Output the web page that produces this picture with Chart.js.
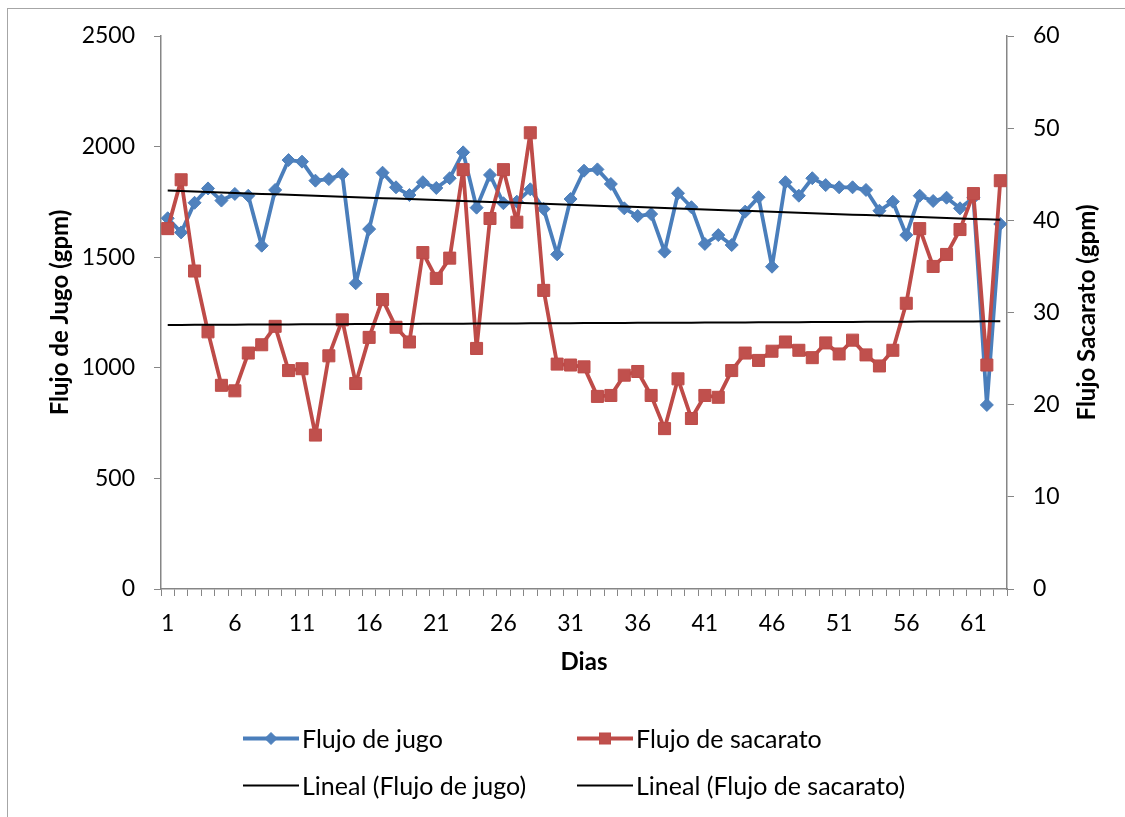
<!DOCTYPE html>
<html>
<head>
<meta charset="utf-8">
<script src="https://cdn.jsdelivr.net/npm/chart.js@4.4.1/dist/chart.umd.min.js"></script>
<style>
  html, body { margin: 0; padding: 0; background: #fff; }
  #lienzo { position: relative; width: 1125px; height: 817px; overflow: hidden; }
  #marco { position: absolute; left: 7px; top: 8px; width: 1140px; height: 830px;
           border: 1px solid #a6a6a6; box-sizing: border-box; }
  #grafico { position: absolute; left: 0; top: 0; }
  .leyenda { position: absolute; display: flex; align-items: center; white-space: nowrap;
             font-family: Lato, sans-serif; font-size: 25px; color: #000; line-height: 1;
             transform: translateY(-50%); }
  .leyenda svg { margin-right: 3px; flex: none; }
</style>
</head>
<body>
<div id="lienzo">
  <div id="marco"></div>
  <canvas id="grafico" width="1125" height="817"></canvas>

  <div class="leyenda" style="left:243px; top:738px;">
    <svg width="56" height="14" viewBox="0 0 56 14">
      <line x1="0" y1="7" x2="56" y2="7" stroke="#4A7EBB" stroke-width="4" stroke-linecap="round"/>
      <polygon points="28,1 34,7 28,13 22,7" fill="#4F81BD" stroke="#4A7EBB" stroke-width="1"/>
    </svg><span>Flujo de jugo</span>
  </div>
  <div class="leyenda" style="left:577px; top:738px;">
    <svg width="56" height="14" viewBox="0 0 56 14">
      <line x1="0" y1="7" x2="56" y2="7" stroke="#BE4B48" stroke-width="4" stroke-linecap="round"/>
      <rect x="22.5" y="1.5" width="11" height="11" fill="#C0504D" stroke="#BE4B48" stroke-width="1"/>
    </svg><span>Flujo de sacarato</span>
  </div>
  <div class="leyenda" style="left:243px; top:785px;">
    <svg width="56" height="14" viewBox="0 0 56 14">
      <line x1="0" y1="7" x2="56" y2="7" stroke="#000" stroke-width="2"/>
    </svg><span>Lineal (Flujo de jugo)</span>
  </div>
  <div class="leyenda" style="left:577px; top:785px;">
    <svg width="56" height="14" viewBox="0 0 56 14">
      <line x1="0" y1="7" x2="56" y2="7" stroke="#000" stroke-width="2"/>
    </svg><span>Lineal (Flujo de sacarato)</span>
  </div>
</div>

<script>
// Días de operación
const dias = ['1','2','3','4','5','6','7','8','9','10','11','12','13','14','15','16','17','18','19','20',
  '21','22','23','24','25','26','27','28','29','30','31','32','33','34','35','36','37','38','39','40',
  '41','42','43','44','45','46','47','48','49','50','51','52','53','54','55','56','57','58','59','60',
  '61','62','63'];

// Flujo de jugo (gpm) — eje izquierdo
const flujoJugo = [1676, 1612, 1746, 1811, 1756, 1786, 1778, 1552, 1804, 1939,
  1932, 1846, 1853, 1875, 1382, 1627, 1882, 1816, 1781, 1839,
  1813, 1857, 1974, 1724, 1872, 1744, 1751, 1807, 1718, 1513,
  1763, 1891, 1897, 1831, 1721, 1686, 1695, 1525, 1789, 1726,
  1560, 1600, 1555, 1706, 1771, 1457, 1839, 1778, 1857, 1826,
  1816, 1816, 1804, 1710, 1751, 1600, 1778, 1754, 1769, 1721,
  1769, 832, 1650];

// Flujo de sacarato (gpm) — eje derecho
const flujoSacarato = [39.1, 44.4, 34.5, 27.9, 22.1, 21.5, 25.6, 26.5, 28.5, 23.7,
  23.9, 16.7, 25.3, 29.2, 22.3, 27.3, 31.4, 28.4, 26.8, 36.5,
  33.7, 35.9, 45.5, 26.1, 40.2, 45.5, 39.8, 49.5, 32.4, 24.4,
  24.3, 24.1, 20.9, 21.0, 23.2, 23.6, 21.0, 17.4, 22.8, 18.5,
  21.0, 20.8, 23.7, 25.6, 24.8, 25.8, 26.8, 25.9, 25.1, 26.7,
  25.5, 27.0, 25.4, 24.2, 25.9, 31.0, 39.1, 35.0, 36.3, 39.0,
  42.9, 24.3, 44.3];

// Rangos de los ejes
const ejeJugo = { min: 0, max: 2500, paso: 500 };
const ejeSacarato = { min: 0, max: 60, paso: 10 };

// Línea de tendencia por mínimos cuadrados (x = número de día)
function tendenciaLineal(valores) {
  const n = valores.length;
  let sx = 0, sy = 0, sxx = 0, sxy = 0;
  valores.forEach((y, i) => { const x = i + 1; sx += x; sy += y; sxx += x * x; sxy += x * y; });
  const m = (n * sxy - sx * sy) / (n * sxx - sx * sx);
  const b = (sy - m * sx) / n;
  return valores.map((_, i) => b + m * (i + 1));
}

const fuente = 'Lato';
const gris = '#868686';

// Título del eje derecho, leído de abajo hacia arriba
const tituloDerecho = {
  id: 'tituloDerecho',
  afterDraw(chart) {
    const { ctx, chartArea } = chart;
    ctx.save();
    ctx.translate(chart.scales.y1.right - 37.5, (chartArea.top + chartArea.bottom) / 2);
    ctx.rotate(-Math.PI / 2);
    ctx.font = 'bold 24px ' + fuente;
    ctx.fillStyle = '#000';
    ctx.textAlign = 'center';
    ctx.textBaseline = 'middle';
    ctx.fillText('Flujo Sacarato (gpm)', 0, 0);
    ctx.restore();
  }
};

function dibujar() {
  new Chart(document.getElementById('grafico'), {
    type: 'line',
    data: {
      labels: dias,
      datasets: [
        {
          label: 'Lineal (Flujo de jugo)',
          data: tendenciaLineal(flujoJugo),
          yAxisID: 'y',
          borderColor: '#000', borderWidth: 2,
          pointRadius: 0, order: 0
        },
        {
          label: 'Lineal (Flujo de sacarato)',
          data: tendenciaLineal(flujoSacarato),
          yAxisID: 'y1',
          borderColor: '#000', borderWidth: 2,
          pointRadius: 0, order: 0
        },
        {
          label: 'Flujo de sacarato',
          data: flujoSacarato,
          yAxisID: 'y1',
          borderColor: '#BE4B48', borderWidth: 3.8,
          borderJoinStyle: 'round', borderCapStyle: 'round',
          pointStyle: 'rect', pointRadius: 8.5, pointBorderWidth: 1,
          pointBackgroundColor: '#C0504D', pointBorderColor: '#BE4B48',
          order: 1
        },
        {
          label: 'Flujo de jugo',
          data: flujoJugo,
          yAxisID: 'y',
          borderColor: '#4A7EBB', borderWidth: 3.8,
          borderJoinStyle: 'round', borderCapStyle: 'round',
          pointStyle: 'rectRot', pointRadius: 6.5, pointBorderWidth: 1,
          pointBackgroundColor: '#4F81BD', pointBorderColor: '#4A7EBB',
          order: 2
        }
      ]
    },
    options: {
      responsive: false,
      animation: false,
      events: [],
      elements: { line: { tension: 0 } },
      layout: { padding: { left: 0, right: 0, top: 36, bottom: 138 } },
      plugins: { legend: { display: false }, tooltip: { enabled: false } },
      scales: {
        x: {
          type: 'category',
          offset: true,
          grid: { display: true, drawOnChartArea: false, offset: true, tickLength: 7, color: gris },
          border: { display: true, color: gris, width: 1.5 },
          ticks: {
            autoSkip: false, maxRotation: 0, minRotation: 0, padding: 14,
            color: '#000', font: { family: fuente, size: 23 },
            callback: (v, i) => (i % 5 === 0 ? dias[i] : '')
          },
          title: {
            display: true, text: 'Dias', color: '#000',
            font: { family: fuente, size: 24, weight: 'bold' },
            padding: { top: 0, bottom: 2 }
          },
          afterFit: s => { s.height = 90; }
        },
        y: {
          position: 'left',
          min: ejeJugo.min, max: ejeJugo.max,
          grid: { drawOnChartArea: false, tickLength: 7, color: gris },
          border: { display: true, color: gris, width: 1.5 },
          ticks: {
            stepSize: ejeJugo.paso, padding: 19, color: '#000', font: { family: fuente, size: 23 },
            callback: v => String(v)
          },
          title: {
            display: true, text: 'Flujo de Jugo (gpm)', color: '#000',
            font: { family: fuente, size: 24, weight: 'bold' },
            padding: { top: 46, bottom: 0 }
          },
          afterFit: s => { s.width = 161; }
        },
        y1: {
          position: 'right',
          min: ejeSacarato.min, max: ejeSacarato.max,
          grid: { drawOnChartArea: false, tickLength: 7, color: gris },
          border: { display: true, color: gris, width: 1.5 },
          ticks: {
            stepSize: ejeSacarato.paso, padding: 19, color: '#000', font: { family: fuente, size: 23 },
            callback: v => String(v)
          },
          afterFit: s => { s.width = 118; }
        }
      }
    },
    plugins: [tituloDerecho]
  });
}

Promise.all([
  document.fonts.load('23px Lato'),
  document.fonts.load('bold 24px Lato'),
  document.fonts.load('25px Lato')
]).then(dibujar, dibujar);
</script>
</body>
</html>
